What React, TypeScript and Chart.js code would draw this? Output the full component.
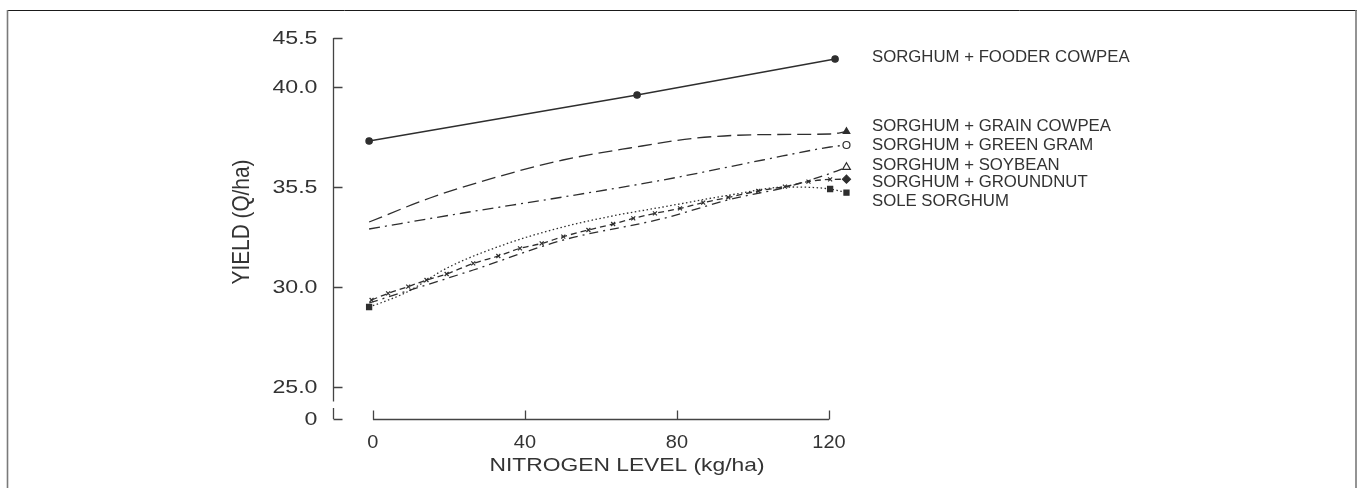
import { useEffect, useRef } from "react";
import { Chart, registerables } from "chart.js";
Chart.register(...registerables);

const W = 1362;
const H = 488;

const seriesNames = [
  "SORGHUM + FOODER COWPEA",
  "SORGHUM + GRAIN COWPEA",
  "SORGHUM + GREEN GRAM",
  "SORGHUM + SOYBEAN",
  "SORGHUM + GROUNDNUT",
  "SOLE SORGHUM",
];

// Sorghum + fodder cowpea (solid, filled circles)
const fodderX = [-1, 69.5, 121.6];
const fodderY = [37.3, 39.6, 41.4];

// Sorghum + grain cowpea (long dashes)
const grainX = [-1, 15, 32.6, 50, 67.6, 85.3, 102.6, 120.3, 124.6];
const grainY = [33.25, 34.45, 35.5, 36.35, 36.95, 37.45, 37.62, 37.65, 37.77];

// Sorghum + green gram (dash-dot)
const greenX = [-1, 23.7, 50, 76.3, 102.6, 120.3, 124.6];
const greenY = [32.9, 33.7, 34.5, 35.35, 36.35, 37.0, 37.1];

// Sorghum + soybean (dash-dot)
const soyX = [-1, 26.4, 50.1, 76.4, 94, 108.9, 120.3, 124.6];
const soyY = [29.2, 30.85, 32.35, 33.43, 34.38, 35.0, 35.68, 35.99];

// Sorghum + groundnut (short dashes with x marks)
const gnutX = [-0.35, 4.0, 9.3, 14.1, 19.4, 26.4, 33.0, 38.7, 44.4, 50.1, 56.7, 63.2, 68.5, 74.2, 80.8, 86.9, 93.5, 101.4, 108.4, 114.6, 120.3, 124.6];
const gnutY = [29.35, 29.68, 30.02, 30.35, 30.65, 31.18, 31.55, 31.93, 32.18, 32.52, 32.85, 33.15, 33.43, 33.68, 33.93, 34.22, 34.48, 34.8, 35.02, 35.27, 35.38, 35.39];

// Sole sorghum (dotted, filled squares)
const soleX = [-1, 2, 9, 19.5, 35, 50, 63, 76.3, 94, 109, 120.3, 124.6];
const soleY = [29.0, 29.2, 29.75, 30.95, 32.15, 33.0, 33.55, 34.0, 34.6, 35.0, 34.9, 34.72];

const xTicks = [0, 40, 80, 120];
const xTickLabels = ["0", "40", "80", "120"];
const yTickValues = [23.4, 25, 30, 35, 40, 42.45];
const yTickLabels = ["0", "25.0", "30.0", "35.5", "40.0", "45.5"];
const legendY = [41.48, 38.0, 37.05, 36.05, 35.2, 34.25];
const legendX = 131.3;

const X_MIN = -10.5;
const X_MAX = 130;
const Y_MIN = 22;
const Y_MAX = 43;

const INK = "#2e2e2e";
const TEXT = "#333333";
const FONT = '"Liberation Sans", Arial, Helvetica, sans-serif';

function pts(xs: number[], ys: number[]) {
  return xs.map((v, i) => ({ x: v, y: ys[i] }));
}
function onlyAt(n: number, idx: number[], r: number) {
  return Array.from({ length: n }, (_, i) => (idx.includes(i) ? r : 0));
}

function drawText(
  ctx: CanvasRenderingContext2D,
  text: string,
  x: number,
  y: number,
  size: number,
  sx: number,
  align: CanvasTextAlign,
  rot = 0,
  sy = 1
) {
  ctx.save();
  ctx.translate(x, y);
  if (rot) ctx.rotate(rot);
  ctx.scale(sx, sy);
  ctx.font = `${size}px ${FONT}`;
  ctx.textAlign = align;
  ctx.textBaseline = "middle";
  ctx.fillStyle = TEXT;
  ctx.fillText(text, 0, 0);
  ctx.restore();
}

const framePlugin = {
  id: "frame",
  beforeDraw(chart: any) {
    const ctx = chart.ctx as CanvasRenderingContext2D;
    ctx.save();
    ctx.fillStyle = "#ffffff";
    ctx.fillRect(0, 0, W, H);
    ctx.strokeStyle = "#1a1a1a";
    ctx.lineWidth = 1;
    ctx.beginPath();
    ctx.moveTo(7, 10.5);
    ctx.lineTo(1357, 10.5);
    ctx.stroke();
    ctx.strokeStyle = "#7a7a7a";
    ctx.lineWidth = 1.6;
    ctx.beginPath();
    ctx.moveTo(7.5, 10);
    ctx.lineTo(7.5, H);
    ctx.moveTo(1356, 10);
    ctx.lineTo(1356, H);
    ctx.stroke();
    ctx.restore();
  },
};

const axesPlugin = {
  id: "customAxes",
  afterDraw(chart: any) {
    const ctx = chart.ctx as CanvasRenderingContext2D;
    const xs = chart.scales.x;
    const ys = chart.scales.y;
    const ax = Math.round(xs.getPixelForValue(X_MIN)) + 0.5;
    ctx.save();
    ctx.strokeStyle = "#444";
    ctx.lineWidth = 1.3;
    // y axis main segment
    ctx.beginPath();
    ctx.moveTo(ax, ys.getPixelForValue(yTickValues[yTickValues.length - 1]));
    ctx.lineTo(ax, ys.getPixelForValue(24.28));
    // broken piece ("L")
    ctx.moveTo(ax, ys.getPixelForValue(23.95));
    ctx.lineTo(ax, ys.getPixelForValue(yTickValues[0]));
    ctx.stroke();
    // y ticks (inward)
    ctx.beginPath();
    yTickValues.forEach((v) => {
      const py = Math.round(ys.getPixelForValue(v)) + 0.5;
      ctx.moveTo(ax, py);
      ctx.lineTo(ax + 9, py);
    });
    ctx.stroke();
    // x axis
    const by = Math.round(ys.getPixelForValue(yTickValues[0])) + 0.5;
    ctx.beginPath();
    ctx.moveTo(xs.getPixelForValue(xTicks[0]), by);
    ctx.lineTo(xs.getPixelForValue(xTicks[xTicks.length - 1]), by);
    xTicks.forEach((v) => {
      const px = Math.round(xs.getPixelForValue(v)) + 0.5;
      ctx.moveTo(px, by);
      ctx.lineTo(px, by - 9);
    });
    ctx.stroke();
    ctx.restore();

    // y tick labels
    yTickValues.forEach((v, i) => {
      drawText(ctx, yTickLabels[i], ax - 16, ys.getPixelForValue(v) + 1, 19, 1.22, "right");
    });
    // x tick labels
    xTicks.forEach((v, i) => {
      drawText(ctx, xTickLabels[i], xs.getPixelForValue(v), by + 23, 19, 1.05, "center");
    });
    // x title
    drawText(ctx, "NITROGEN LEVEL (kg/ha)", 627, by + 46, 19, 1.2, "center");
    // y title
    drawText(ctx, "YIELD (Q/ha)", 243, 222, 20, 1.04, "center", -Math.PI / 2, 1.17);
    // series labels
    seriesNames.forEach((name, i) => {
      drawText(ctx, name, xs.getPixelForValue(legendX), ys.getPixelForValue(legendY[i]), 16.3, 1.03, "left");
    });
  },
};

export default function App() {
  const ref = useRef<HTMLCanvasElement | null>(null);
  useEffect(() => {
    if (!ref.current) return;
    const common = {
      borderColor: INK,
      borderWidth: 1.3,
      pointBorderColor: INK,
      pointBackgroundColor: INK,
      pointBorderWidth: 1.2,
      fill: false,
      clip: false as any,
    };
    const chart = new Chart(ref.current, {
      type: "line",
      data: {
        datasets: [
          {
            ...common,
            label: seriesNames[0],
            data: pts(fodderX, fodderY),
            tension: 0,
            pointStyle: "circle",
            pointRadius: 3.2,
          },
          {
            ...common,
            label: seriesNames[1],
            data: pts(grainX, grainY),
            borderDash: [14, 6],
            cubicInterpolationMode: "monotone",
            pointStyle: "triangle",
            pointRadius: onlyAt(grainX.length, [grainX.length - 1], 3.8),
          },
          {
            ...common,
            label: seriesNames[2],
            data: pts(greenX, greenY),
            borderDash: [11, 5, 2, 5],
            cubicInterpolationMode: "monotone",
            pointStyle: "circle",
            pointBackgroundColor: "#ffffff",
            pointRadius: onlyAt(greenX.length, [greenX.length - 1], 3.5),
          },
          {
            ...common,
            label: seriesNames[3],
            data: pts(soyX, soyY),
            borderDash: [9, 5, 2, 5],
            cubicInterpolationMode: "monotone",
            pointStyle: "triangle",
            pointBackgroundColor: "#ffffff",
            pointRadius: onlyAt(soyX.length, [soyX.length - 1], 4.5),
          },
          {
            ...common,
            label: seriesNames[4],
            data: pts(gnutX, gnutY),
            borderDash: [6, 4],
            cubicInterpolationMode: "monotone",
            pointStyle: gnutX.map((_, i) => (i === gnutX.length - 1 ? "rectRot" : "crossRot")) as any,
            pointRadius: gnutX.map((_, i) => (i === gnutX.length - 1 ? 4 : 2.8)),
          },
          {
            ...common,
            label: seriesNames[5],
            data: pts(soleX, soleY),
            borderDash: [1.5, 2.5],
            cubicInterpolationMode: "monotone",
            pointStyle: "rect",
            pointRadius: onlyAt(soleX.length, [0, soleX.length - 2, soleX.length - 1], 3.6),
          },
        ],
      },
      options: {
        animation: false,
        responsive: false,
        events: [],
        layout: {
          padding: { left: 333, right: W - 867, top: 27, bottom: H - 447 },
        },
        plugins: {
          legend: { display: false },
          tooltip: { enabled: false },
          title: { display: false },
        },
        scales: {
          x: { type: "linear", min: X_MIN, max: X_MAX, display: false },
          y: { type: "linear", min: Y_MIN, max: Y_MAX, display: false },
        },
      },
      plugins: [framePlugin, axesPlugin],
    });
    return () => chart.destroy();
  }, []);
  return (
    <div style={{ position: "absolute", left: 0, top: 0, width: W, height: H }}>
      <canvas ref={ref} width={W} height={H} style={{ display: "block" }} />
    </div>
  );
}
